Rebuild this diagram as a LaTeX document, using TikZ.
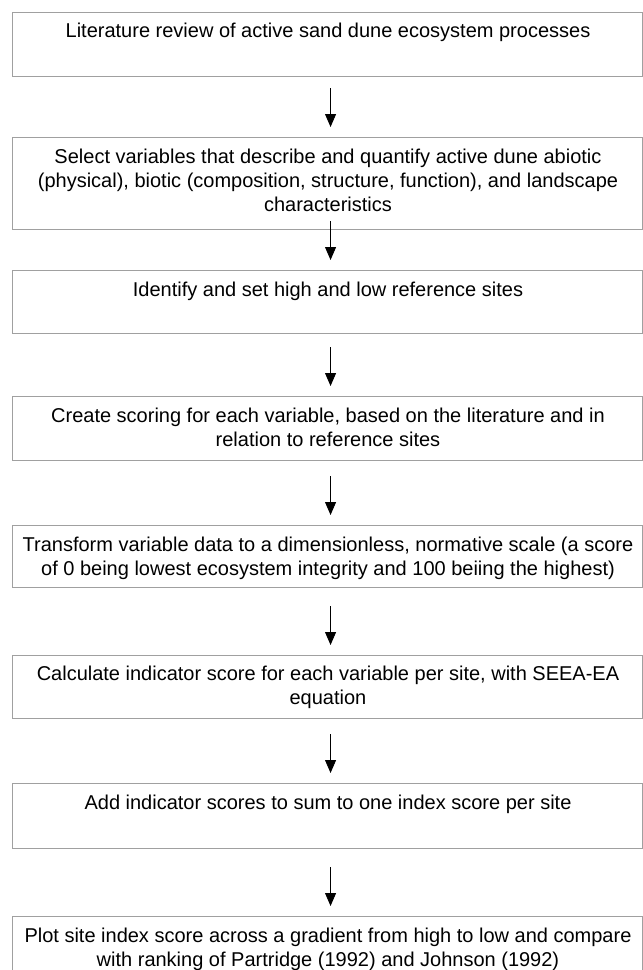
\documentclass[tikz,border=0pt]{standalone}
\usepackage{fontspec}
\setmainfont{Liberation Sans}
\usetikzlibrary{arrows.meta}
\definecolor{boxgray}{RGB}{160,160,160}
\begin{document}
\begin{tikzpicture}[x=1pt,y=1pt,
  stepbox/.style={draw=boxgray, line width=1.1pt, inner sep=0pt, minimum width=630pt, anchor=north west},
  txt/.style={inner sep=0pt, anchor=base, font=\fontsize{20pt}{24pt}\selectfont},
  arr/.style={draw=black, line width=0.9pt, -{Triangle[length=13pt,width=11pt]}, shorten >=10pt}]
\useasboundingbox (0,0) rectangle (643,-970);
\clip (0,0) rectangle (643,-970);
% boxes
\node[stepbox, minimum height=64pt] (b1) at (12,-12) {};
\node[stepbox, minimum height=92pt] (b2) at (12,-137) {};
\node[stepbox, minimum height=63pt] (b3) at (12,-270) {};
\node[stepbox, minimum height=64pt] (b4) at (12,-396) {};
\node[stepbox, minimum height=62pt] (b5) at (12,-525) {};
\node[stepbox, minimum height=63pt] (b6) at (12,-655) {};
\node[stepbox, minimum height=65pt] (b7) at (12,-783) {};
\node[stepbox, minimum height=80pt] (b8) at (12,-916) {};
% texts
\newcommand{\lines}[1]{\begin{tabular}[t]{@{}c@{}}#1\end{tabular}}
\node[txt] (t1) at (328,-37) {\lines{Literature review of active sand dune ecosystem processes}};
\node[txt] (t2) at (328,-163) {\lines{Select variables that describe and quantify active dune abiotic\\(physical), biotic (composition, structure, function), and landscape\\characteristics}};
\node[txt] (t3) at (328,-296) {\lines{Identify and set high and low reference sites}};
\node[txt] (t4) at (328,-422) {\lines{Create scoring for each variable, based on the literature and in\\relation to reference sites}};
\node[txt] (t5) at (328,-551) {\lines{Transform variable data to a dimensionless, normative scale (a score\\of 0 being lowest ecosystem integrity and 100 beiing the highest)}};
\node[txt] (t6) at (328,-680) {\lines{Calculate indicator score for each variable per site, with SEEA-EA\\equation}};
\node[txt] (t7) at (328,-809) {\lines{Add indicator scores to sum to one index score per site}};
\node[txt] (t8) at (328,-942) {\lines{Plot site index score across a gradient from high to low and compare\\with ranking of Partridge (1992) and Johnson (1992)}};
% arrows
\draw[arr, shorten <=11pt] ([xshift=3pt]b1.south) -- ([xshift=3pt]b2.north);
\draw[arr, shorten <=-9pt] ([xshift=3pt]b2.south) -- ([xshift=3pt]b3.north);
\draw[arr, shorten <=13pt] ([xshift=3pt]b3.south) -- ([xshift=3pt]b4.north);
\draw[arr, shorten <=15pt] ([xshift=3pt]b4.south) -- ([xshift=3pt]b5.north);
\draw[arr, shorten <=18pt] ([xshift=3pt]b5.south) -- ([xshift=3pt]b6.north);
\draw[arr, shorten <=15pt] ([xshift=3pt]b6.south) -- ([xshift=3pt]b7.north);
\draw[arr, shorten <=18pt] ([xshift=3pt]b7.south) -- ([xshift=3pt]b8.north);
\end{tikzpicture}
\end{document}
